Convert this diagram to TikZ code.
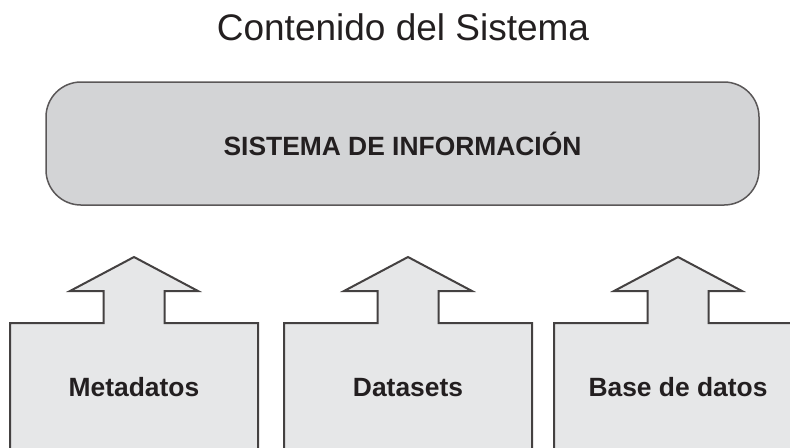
\documentclass[tikz,border=0pt]{standalone}
\usepackage{fontspec}
\setmainfont{Liberation Sans}
\usepackage{tikz}
\usepackage{xcolor}
\definecolor{sisgray}{RGB}{211,212,214}
\definecolor{boxgray}{RGB}{230,231,232}
\definecolor{ink}{RGB}{35,31,32}

\begin{document}
\begin{tikzpicture}[x=0.5pt,y=-0.5pt,
	lbl/.style={font=\fontsize{13.2}{16}\selectfont\bfseries,text=ink},
	srcbox/.style={fill=boxgray,draw=ink!85,line width=1pt,line join=miter}]
		\path[use as bounding box,clip] (0,0) rectangle (790,447);
		
		\node[font=\fontsize{18.5}{22}\selectfont,text=ink,anchor=base] (t) at (403,40) {Contenido del Sistema};
		\node[draw=ink!75,fill=sisgray,line width=0.75pt,rounded corners=17.5pt,
			minimum width=356.5pt,minimum height=61.5pt,lbl] (s) at (402.5,143.5) {SISTEMA DE INFORMACIÓN};
		
		\foreach \cx/\name/\txt in {134/b1/Metadatos,408/b2/Datasets,678/b3/Base de datos}{
			\filldraw[srcbox] (\cx-124,470) -- (\cx-124,323) -- (\cx-30.5,323) -- (\cx-30.5,291)
				-- (\cx-64,291) -- (\cx,257) -- (\cx+64,291) -- (\cx+30.5,291) -- (\cx+30.5,323)
				-- (\cx+124,323) -- (\cx+124,470);
			\node[lbl,anchor=base] (\name) at (\cx,396) {\txt};
		}
		\end{tikzpicture}
\end{document}
